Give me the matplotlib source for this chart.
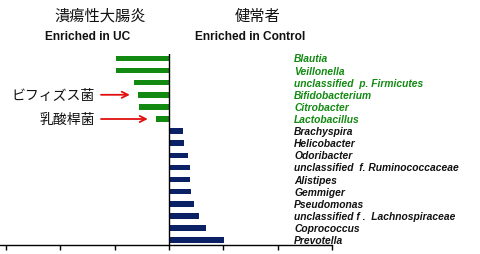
import matplotlib
matplotlib.use("Agg")
import matplotlib.pyplot as plt
from matplotlib.transforms import blended_transform_factory

# ---- data ----
taxa = ["Blautia", "Veillonella", "unclassified  p. Firmicutes", "Bifidobacterium",
        "Citrobacter", "Lactobacillus", "Brachyspira", "Helicobacter", "Odoribacter",
        "unclassified  f. Ruminococcaceae", "Alistipes", "Gemmiger", "Pseudomonas",
        "unclassified f .  Lachnospiraceae", "Coprococcus", "Prevotella"]
scores = [-0.98, -0.98, -0.65, -0.57, -0.56, -0.24,
          0.26, 0.28, 0.35, 0.39, 0.39, 0.41, 0.46, 0.56, 0.68, 1.02]
xticks = [-3, -2, -1, 0, 1, 2, 3]
group_uc_jp = "潰瘍性大腸炎"
group_ctrl_jp = "健常者"
group_uc_en = "Enriched in UC"
group_ctrl_en = "Enriched in Control"
annotations = [("ビフィズス菌", 3), ("乳酸桿菌", 5)]

GREEN = "#128a12"
NAVY = "#0b2165"
W, H = 480, 255

fig = plt.figure(figsize=(4.8, 2.55), dpi=100)
fig.patch.set_facecolor("white")

def fx(px):
    return px / W

def fy(py):
    return 1 - py / H

# axes placed in pixel terms
left, right, top, bottom = 0, 332, 55, 246
ax = fig.add_axes([fx(left), fy(bottom), fx(right - left), (bottom - top) / H])

ypos = list(range(len(taxa)))
colors = [GREEN if v < 0 else NAVY for v in scores]
ax.barh(ypos, scores, height=0.46, color=colors)

ax.set_xlim(-3.11, 3.0)
ax.set_ylim(15.41, -0.37)
ax.axvline(0, color="black", lw=1.0)

for s in ["left", "right", "top"]:
    ax.spines[s].set_visible(False)
ax.spines["bottom"].set_linewidth(1.0)
ax.set_xticks(xticks)
ax.set_xticklabels([])
ax.tick_params(axis="x", direction="out", length=3.5, width=1)
ax.set_yticks([])
ax.patch.set_alpha(0)

# taxon labels
lab_x = (294 - 169) / 54.3
for i, (t, v) in enumerate(zip(taxa, scores)):
    ax.text(lab_x, i, t, ha="left", va="center", fontsize=7.4, fontweight="bold",
            fontstyle="italic", family=["Liberation Sans", "DejaVu Sans"],
            color=GREEN if v < 0 else "#111111", clip_on=False)

# titles
jp = ["Noto Sans CJK JP", "DejaVu Sans"]
fig.text(fx(100), fy(16), group_uc_jp, ha="center", va="center", fontsize=11, family=jp,
         color="#111111")
fig.text(fx(258), fy(16), group_ctrl_jp, ha="center", va="center", fontsize=11, family=jp,
         color="#111111")
fig.text(fx(88), fy(37), group_uc_en, ha="center", va="center", fontsize=8.6,
         fontweight="bold", family=["Liberation Sans", "DejaVu Sans"], color="#111111")
fig.text(fx(250), fy(37), group_ctrl_en, ha="center", va="center", fontsize=8.6,
         fontweight="bold", family=["Liberation Sans", "DejaVu Sans"], color="#111111")

# annotations with red arrows
for label, idx in annotations:
    tip = (scores[idx] - 0.15, idx)
    ann = ax.annotate("", xy=tip, xycoords="data",
                      xytext=(fx(101), idx),
                      textcoords=blended_transform_factory(fig.transFigure, ax.transData),
                      arrowprops=dict(arrowstyle="->", color="#e01010", lw=1.3,
                                      shrinkA=0, shrinkB=0, mutation_scale=11),
                      annotation_clip=False)
    ax.text(-3.11 + (95 / 54.3), idx, label, ha="right", va="center", fontsize=10,
            family=jp, color="#111111", clip_on=False)

fig.savefig("out.png", dpi=100, facecolor="white")
